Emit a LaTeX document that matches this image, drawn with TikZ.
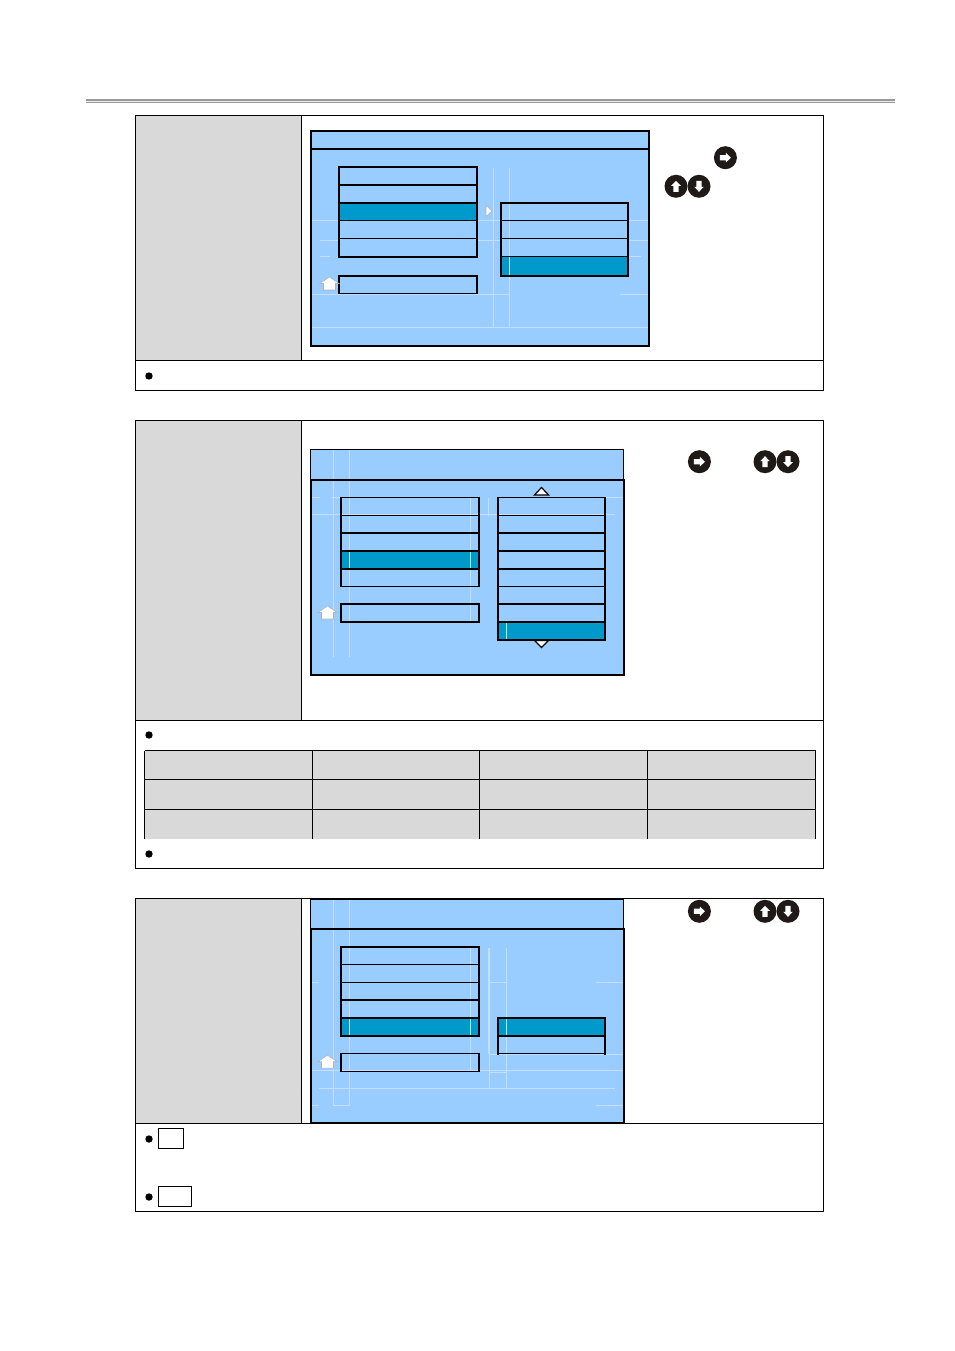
\documentclass[tikz,border=0pt]{standalone}
\definecolor{menublue}{HTML}{99CCFF}
\definecolor{hilite}{HTML}{0099CC}
\definecolor{cellgray}{HTML}{D9D9D9}
\definecolor{btnblack}{HTML}{1F1A17}
\definecolor{faint}{HTML}{C4DFFF}
\tikzset{
  thinl/.style={line width=0.75pt,black},
  thickl/.style={line width=1.5pt,black},
  grid/.style={line width=0.75pt,black},
  ghost/.style={line width=0.4pt,faint},
  cellfill/.style={fill=cellgray},
  menufill/.style={fill=menublue},
  hifill/.style={fill=hilite},
  homearrow/.style={fill=white,draw=black!30,line width=0.4pt,line join=miter},
  caret/.style={fill=white,draw=black,line width=0.9pt,line join=miter},
  btndisc/.style={fill=btnblack},
  notebox/.style={draw=black,line width=0.75pt,fill=white}
}
% button: x, y, rotation of the white arrow (0 = right)
\newcommand{\btnarrow}[3]{%
  \fill[btndisc] (#1,#2) circle (11.5);
  \fill[white,shift={(#1,#2)},rotate=#3] (-5.5,-2.6) -- (0.5,-2.6) -- (0.5,-4.8) -- (5.5,0) -- (0.5,4.8) -- (0.5,2.6) -- (-5.5,2.6) -- cycle;
}
% list: x1, x2, list of y/width-style pairs
\newcommand{\listrules}[3]{%
  \foreach \yy/\st in {#3} { \draw[\st] (#1,\yy) -- (#2,\yy); }
}
\newcommand{\sides}[4]{%
  \draw[thickl,line cap=rect] (#1,#3) -- (#1,#4);
  \draw[thickl,line cap=rect] (#2,#3) -- (#2,#4);
}
\newcommand{\home}[2]{%
  \draw[homearrow,shift={(#1,#2)}] (0,0) -- (9.5,-6.5) -- (19,0) -- (15.5,0) -- (15.5,6.5) -- (3.5,6.5) -- (3.5,0) -- cycle;
}
\begin{document}
\begin{tikzpicture}[x=0.75pt,y=-0.75pt]
\useasboundingbox (0,0) rectangle (954,1351);
\fill[white] (0,0) rectangle (954,1351);

% header rule
\fill[black!40] (86,98.7) rectangle (895,103.4);
\fill[black!8] (86,100.6) rectangle (895,101.6);

% ---------- panel 1 ----------
\fill[cellfill] (136,116) rectangle (301,360);
\draw[grid] (135.5,115.5) rectangle (823.5,390.5);
\draw[grid] (135.5,360.5) -- (823.5,360.5);
\draw[grid] (301.5,115.5) -- (301.5,360.5);
\fill[black] (149,376) circle (3.7);

\fill[menufill] (311,131) rectangle (649,346);
\fill[hifill] (339,203) rectangle (477,221);
\fill[hifill] (501,257) rectangle (628,276);
\draw[ghost] (492.8,168) -- (492.8,327) (509.7,168) -- (509.7,327);
\draw[ghost] (312,220) -- (339,220) (477,220) -- (501,220) (628,220) -- (649,220);
\draw[ghost] (320,240.3) -- (339,240.3) (477,240.3) -- (501,240.3) (628,240.3) -- (649,240.3);
\draw[ghost] (320,256) -- (330,256) (339,256) -- (470,256) (620,256) -- (641,256);
\draw[ghost] (312,294.3) -- (509,294.3) (620,294.3) -- (649,294.3);
\draw[ghost] (312,327.3) -- (649,327.3);
\draw[thickl] (311,131) rectangle (649,346);
\draw[thickl] (311,149) -- (649,149);
\listrules{339}{477}{167/thickl,185/thickl,203/thickl,221/thinl,239/thinl,257/thickl}
\sides{339}{477}{167}{257}
\draw[thickl] (339,275.7) -- (477,275.7);
\draw[thinl] (339,293.3) -- (477,293.3);
\sides{339}{477}{275.7}{293.3}
\listrules{501}{628}{203/thickl,221/thinl,239/thinl,257/thinl,275.7/thickl}
\sides{501}{628}{203}{275.7}
\draw[homearrow] (486,205.5) -- (492,211) -- (486,216.5) -- cycle;
\home{320}{283.5}
\btnarrow{725.4}{157.7}{0}
\btnarrow{676}{186.3}{90}
\btnarrow{699}{186.3}{-90}

% ---------- panel 2 ----------
\fill[cellfill] (136,421) rectangle (301,720);
\draw[grid] (135.5,420.5) rectangle (823.5,868.5);
\draw[grid] (135.5,720.5) -- (823.5,720.5);
\draw[grid] (301.5,420.5) -- (301.5,720.5);
\fill[black] (149,735) circle (3.7);
\fill[black] (149,854) circle (3.7);
% table
\fill[cellfill] (144.5,750.5) rectangle (815.5,838.5);
\foreach \yy in {750.5,779.5,809.5} { \draw[grid] (144.5,\yy) -- (815.5,\yy); }
\foreach \xx in {144.5,312.5,479.5,647.5,815.5} { \draw[grid] (\xx,750.5) -- (\xx,838.5); }

\fill[menufill] (311,449.5) rectangle (623.5,480);
\draw[thinl] (310.8,449.5) rectangle (623.5,480);
\fill[menufill] (311,480) rectangle (624,675);
\fill[hifill] (341,551) rectangle (479,569);
\fill[hifill] (498,622) rectangle (605,640);
\draw[ghost] (332.8,450) -- (332.8,656.7) (349.7,450) -- (349.7,656.7);
\draw[ghost] (470.4,498) -- (470.4,622) (488,498) -- (488,516) (506.3,622) -- (506.3,640);
\draw[ghost] (312,514.3) -- (615,514.3) (312,497) -- (320,497) (332,497) -- (341,497) (597,497) -- (623,497);
\draw[thickl] (311,480) rectangle (624,675);
\listrules{341}{479}{497.7/thinl,515.3/thinl,533/thickl,551/thickl,569/thickl,586.3/thinl}
\sides{341}{479}{497.7}{586.3}
\draw[thickl] (341,604) -- (479,604) (341,622) -- (479,622);
\sides{341}{479}{604}{622}
\listrules{498}{605}{497.7/thinl,515.3/thinl,533/thickl,551/thickl,569/thickl,586.3/thinl,604/thickl,622/thickl,640/thickl}
\sides{498}{605}{497.7}{640}
\draw[caret] (534.4,495) -- (541.5,487.5) -- (548.6,495) -- cycle;
\draw[caret] (534.4,640.5) -- (541.5,647.5) -- (548.6,640.5) -- cycle;
\home{318}{612.5}
\btnarrow{699.4}{461.7}{0}
\btnarrow{765}{461.7}{90}
\btnarrow{788}{461.7}{-90}

% ---------- panel 3 ----------
\fill[cellfill] (136,899) rectangle (301,1123);
\draw[grid] (135.5,898.5) rectangle (823.5,1211.5);
\draw[grid] (135.5,1123.5) -- (823.5,1123.5);
\draw[grid] (301.5,898.5) -- (301.5,1123.5);
\fill[black] (149,1139) circle (3.7);
\fill[black] (149,1197) circle (3.7);
\draw[notebox] (158.5,1128.5) rectangle (183.5,1148.5);
\draw[notebox] (158.5,1186.5) rectangle (191.5,1206.5);

\fill[menufill] (311,899) rectangle (623.5,929);
\draw[thinl] (310.8,929) -- (310.8,899);
\draw[thinl] (623.5,899) -- (623.5,929);
\draw[thickl] (310.8,899) -- (623.5,899);
\fill[menufill] (311,929) rectangle (624,1122.5);
\fill[hifill] (341,1018) rectangle (479,1036);
\fill[hifill] (498,1018) rectangle (605,1036);
\draw[ghost] (332.8,900) -- (332.8,1105) (349.7,900) -- (349.7,1105) (332.8,1105) -- (349.7,1105);
\draw[ghost] (470.4,948) -- (470.4,1071) (488,948) -- (488,1054) (489.5,948) -- (489.5,1088) (506.3,948) -- (506.3,1088);
\draw[ghost] (312,982) -- (319,982) (489,982) -- (506,982) (596,982) -- (623,982);
\draw[ghost] (312,1070) -- (623,1070) (489,1054) -- (623,1054) (489,1072) -- (506,1072);
\draw[ghost] (319,1088) -- (615,1088) (596,1105) -- (623,1105) (312,1105) -- (319,1105);
\draw[thickl] (311,929) rectangle (624,1122.5);
\listrules{341}{479}{947/thickl,964.7/thinl,982.3/thinl,1000/thickl,1018/thickl,1036/thickl}
\sides{341}{479}{947}{1036}
\draw[thinl] (341,1053.7) -- (479,1053.7) (341,1071.3) -- (479,1071.3);
\sides{341}{479}{1053.7}{1071.3}
\listrules{498}{605}{1018/thickl,1036/thickl,1053.7/thinl}
\sides{498}{605}{1018}{1053.7}
\home{318}{1061.7}
\btnarrow{699.4}{911.3}{0}
\btnarrow{765}{911.3}{90}
\btnarrow{788}{911.3}{-90}
\end{tikzpicture}
\end{document}
